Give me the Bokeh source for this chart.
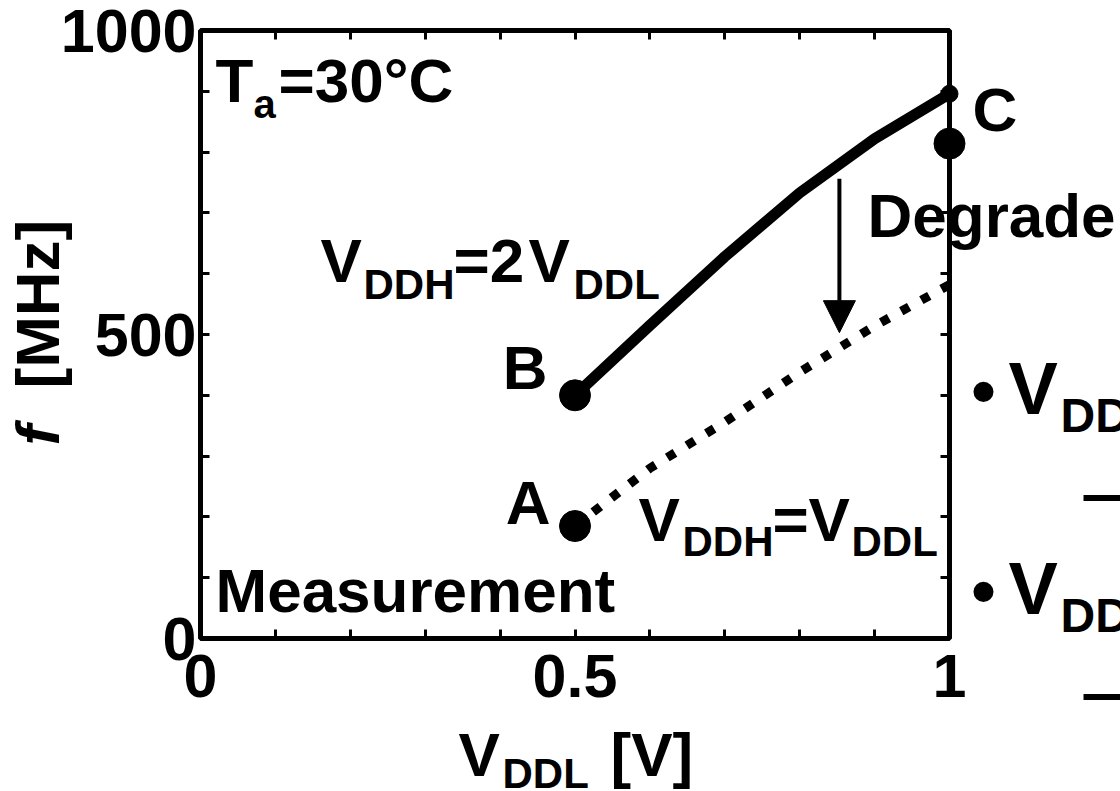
import math
from bokeh.plotting import figure
from bokeh.models import Arrow, NormalHead, LinearAxis, FixedTicker, Range1d
from bokeh.core.properties import value
from bokeh.embed import file_html
from bokeh.resources import INLINE

# ---------------- data ----------------
vddl = [0.5, 0.6, 0.7, 0.8, 0.9, 1.0]              # V_DDL [V]
f_vddh_2x = [400, 515, 628, 733, 822, 896]          # f [MHz], V_DDH = 2 V_DDL
f_vddh_1x = [185, 280, 356, 438, 514, 582]          # f [MHz], V_DDH = V_DDL
pt_names = ["A", "B", "C"]
pt_x = [0.5, 0.5, 1.0]
pt_f = [185, 400, 814]
x_ticks = [0, 0.5, 1]
x_tick_labels = ["0", "0.5", "1"]
x_minor = [0.1, 0.2, 0.3, 0.4, 0.6, 0.7, 0.8, 0.9]
y_ticks = [0, 500, 1000]
y_tick_labels = ["0", "500", "1000"]
y_minor = [100, 200, 300, 400, 600, 700, 800, 900]
arrow_x = 0.853
arrow_f = [756, 503]

# ---------------- layout ----------------
W, H = 1120, 791
FONT = "Liberation Sans"
FL, FR, FT, FB = 200.0, 949.0, 30.0, 638.0   # frame in picture pixels
BL, BR, BT, BB = int(FL), int(W - FR), int(FT), int(H - FB)
MID = 0.37   # distance from the text baseline up to the em-box middle, in em


def fx(px):
    return (px - FL) / (FR - FL)


def fy(py):
    return (FB - py) / (FB - FT) * 1000.0


p = figure(width=W, height=H, output_backend="svg", toolbar_location=None,
           x_range=Range1d(0, 1), y_range=Range1d(0, 1000),
           min_border_left=BL, min_border_right=BR,
           min_border_top=BT, min_border_bottom=BB)
p.xgrid.visible = False
p.ygrid.visible = False
p.background_fill_color = "white"
p.border_fill_color = "white"
p.outline_line_color = "black"
p.outline_line_width = 5

p.add_layout(LinearAxis(), "above")
p.add_layout(LinearAxis(), "right")


def style_axis(ax, ticks, minor, labels, show):
    ax.ticker = FixedTicker(ticks=ticks, minor_ticks=minor)
    ax.axis_line_color = None
    ax.major_tick_in = 9
    ax.major_tick_out = 0
    ax.minor_tick_in = 9
    ax.minor_tick_out = 0
    ax.major_tick_line_width = 3
    ax.minor_tick_line_width = 3
    ax.major_tick_line_color = "black"
    ax.minor_tick_line_color = "black"
    if show:
        ax.major_label_overrides = {t: s for t, s in zip(ticks, labels)}
        ax.major_label_text_font = FONT
        ax.major_label_text_font_style = "bold"
        ax.major_label_text_font_size = "61px"
        ax.major_label_text_color = "black"
    else:
        ax.major_label_text_font_size = "0px"
        ax.major_label_text_color = None


style_axis(p.below[0], x_ticks, x_minor, x_tick_labels, True)
p.below[0].major_label_standoff = 16
style_axis(p.left[0], y_ticks, y_minor, y_tick_labels, True)
p.left[0].major_label_standoff = 4
style_axis(p.above[0], x_ticks, x_minor, x_tick_labels, False)
style_axis(p.right[0], y_ticks, y_minor, y_tick_labels, False)

# ---------------- series ----------------
p.line(vddl, f_vddh_2x, line_width=11, line_color="black",
       line_cap="round", line_join="round", level="overlay")
p.line(vddl, f_vddh_1x, line_width=9, line_color="black",
       line_dash="9 14", line_cap="butt", level="overlay")
p.scatter(pt_x, pt_f, size=31, marker="circle", fill_color="black",
          line_color="black", level="overlay")
p.scatter([vddl[-1]], [f_vddh_2x[-1]], size=17, marker="circle",
          fill_color="black", line_color="black", level="overlay")

p.add_layout(Arrow(end=NormalHead(size=32, fill_color="black", line_color="black"),
                   x_start=arrow_x, y_start=arrow_f[0], x_end=arrow_x, y_end=arrow_f[1],
                   line_width=4, line_color="black"))


def lab(px, py, text, size, align="left", style="bold", rotated=False, centered=False):
    """px, py: left (or right/centre) end of the text on its baseline, in picture pixels."""
    if not centered:
        if rotated:
            px = px - MID * size
        else:
            py = py - MID * size
    p.text(x=[fx(px)], y=[fy(py)], text=[text], text_font=value(FONT),
           text_font_size=value(f"{size}px"), text_font_style=style,
           text_align=align, text_baseline="middle",
           angle=(math.pi / 2 if rotated else 0.0),
           text_color="black", level="overlay")


# T_a = 30 C
lab(215, 103, "T", 62)
lab(253, 118, "a", 40)
lab(278, 103, "=30°C", 62)

# V_DDH = 2 V_DDL
lab(320, 283, "V", 62)
lab(363, 300, "DDH", 42)
lab(453, 283, "=2", 62)
lab(528, 283, "V", 62)
lab(573, 300, "DDL", 42)

# V_DDH = V_DDL
lab(638, 542, "V", 62)
lab(682, 557, "DDH", 42)
lab(772, 542, "=", 62)
lab(808, 542, "V", 62)
lab(851, 557, "DDL", 42)

# point names
lab(547, 390, pt_names[1], 62, align="right")
lab(550, 525, pt_names[0], 62, align="right")
lab(972, 132, pt_names[2], 62)

lab(215, 613, "Measurement", 62)
lab(867, 238, "Degrade", 62)

# right side list (cut by the picture edge, as in the reference)
lab(983, 390, "•", 70, align="center", centered=True)
lab(1008, 415, "V", 74)
lab(1060, 433, "DD", 48)
lab(1083, 493, "—", 60, centered=True)
lab(983, 590, "•", 70, align="center", centered=True)
lab(1008, 615, "V", 74)
lab(1060, 633, "DD", 48)
lab(1083, 692, "—", 60, centered=True)

# axis titles
lab(458, 777, "V", 62)
lab(502, 789, "DDL", 42)
lab(610, 777, "[V]", 62)

lab(60, 445, "f", 62, style="bold italic", rotated=True)
lab(60, 388, "[MHz]", 62, rotated=True)

open("out.html", "w").write(file_html(p, INLINE))
